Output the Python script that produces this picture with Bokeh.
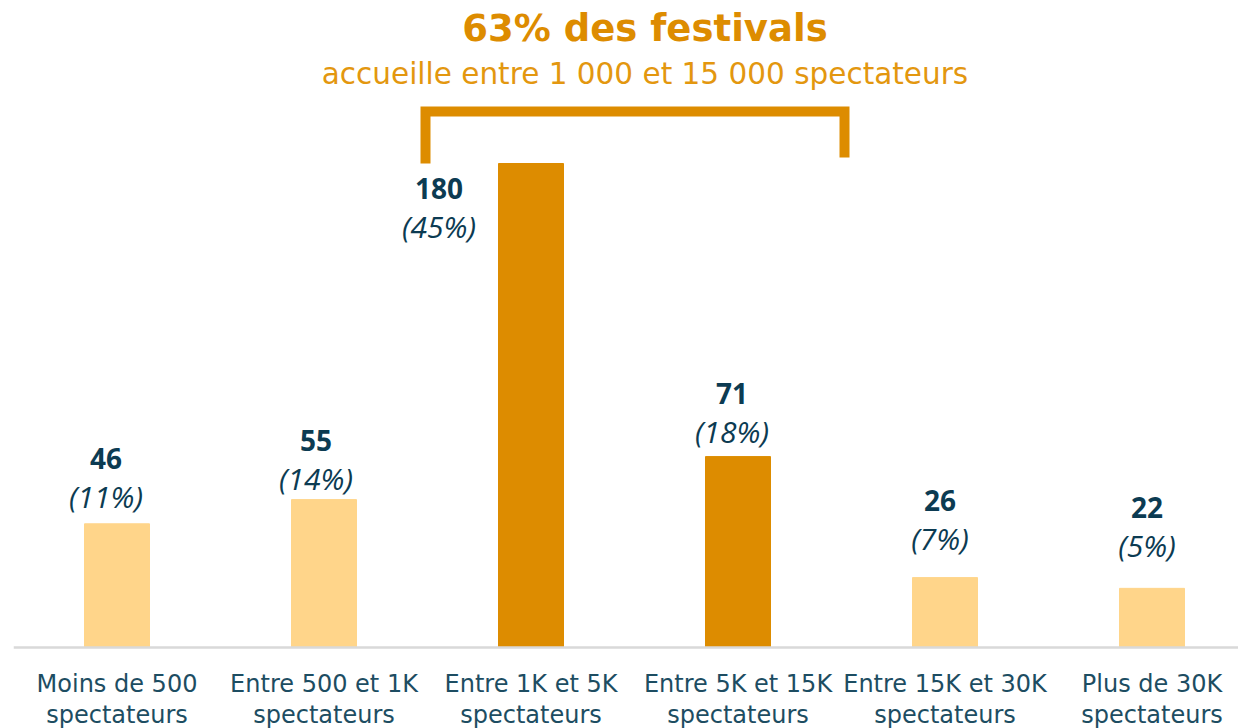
from bokeh.plotting import figure
from bokeh.models import Range1d, Span, ColumnDataSource
from bokeh.core.properties import value
from bokeh.embed import file_html
from bokeh.resources import INLINE

# ---- data ----
categories = ["Moins de 500\nspectateurs", "Entre 500 et 1K\nspectateurs",
              "Entre 1K et 5K\nspectateurs", "Entre 5K et 15K\nspectateurs",
              "Entre 15K et 30K\nspectateurs", "Plus de 30K\nspectateurs"]
counts = [46, 55, 180, 71, 26, 22]
percents = ["(11%)", "(14%)", "(45%)", "(18%)", "(7%)", "(5%)"]
highlight = [False, False, True, True, False, False]
title_main = "63% des festivals"
title_sub = "accueille entre 1 000 et 15 000 spectateurs"

# ---- layout constants ----
W, H = 1238, 728
LEFT = 13
PX_PER_CAT = 207.0
PX_PER_UNIT = 484.0 / 180.0
BASE_PX = 647.0            # baseline distance from figure top
x0 = -0.5
x1 = x0 + (W - LEFT) / PX_PER_CAT
y1 = BASE_PX / PX_PER_UNIT
y0 = y1 - H / PX_PER_UNIT

def dy(px):  # pixel distance -> data units
    return px / PX_PER_UNIT

def dx(px):
    return px / PX_PER_CAT

DARK = "#DD8C00"
LIGHT = "#FFD58A"
NAVY = "#0C3B52"
LABEL = "#1D4D62"
GEO = "DejaVu Sans"

p = figure(width=W, height=H, x_range=Range1d(x0, x1), y_range=Range1d(y0, y1),
           x_axis_type=None, y_axis_type=None, toolbar_location=None,
           output_backend="svg", min_border_left=LEFT, min_border_right=0,
           min_border_top=0, min_border_bottom=0)
p.outline_line_color = None
p.xgrid.visible = False
p.ygrid.visible = False
p.background_fill_color = "white"
p.border_fill_color = "white"

xs = list(range(len(categories)))
colors = [DARK if h else LIGHT for h in highlight]
src = ColumnDataSource(dict(x=xs, top=counts, color=colors))
p.vbar(x="x", top="top", width=dx(65), bottom=0, color="color", source=src)

p.add_layout(Span(location=0, dimension="width", line_color="#D9D9D9", line_width=2.5))

# value labels (pixel offsets relative to bar centre / top)
num_gap = [65, 59, 0, 63, 77, 81]
num_shift = [-11, -8, 0, -6, -5, -5]
num_x, num_y, pct_y = [], [], []
for i, c in enumerate(counts):
    if i == 2:
        num_x.append(i + dx(-92))
        num_y.append(c - dy(25))
    else:
        num_x.append(i + dx(num_shift[i]))
        num_y.append(c + dy(num_gap[i]))
    pct_y.append(num_y[-1] - dy(38))

p.text(x=num_x, y=num_y, text=[str(c) for c in counts], text_font=value("Open Sans"),
       text_font_style="bold", text_font_size="28px", text_color=NAVY,
       text_align="center", text_baseline="middle")
p.text(x=num_x, y=pct_y, text=percents, text_font=value("Open Sans"),
       text_font_style="italic", text_font_size="30px", text_color=NAVY,
       text_align="center", text_baseline="middle")

# category labels (two lines)
line1 = [c.split("\n")[0] for c in categories]
line2 = [c.split("\n")[1] for c in categories]
p.text(x=xs, y=[-dy(36)] * len(xs), text=line1, text_font=value(GEO),
       text_font_size="24px", text_color=LABEL, text_align="center", text_baseline="middle")
p.text(x=xs, y=[-dy(67)] * len(xs), text=line2, text_font=value(GEO),
       text_font_size="24px", text_color=LABEL, text_align="center", text_baseline="middle")

# bracket
bx_l = 2 + dx(425 - 530.5)
bx_r = 3 + dx(844 - 737.5)
by_top = counts[2] + dy(52)
p.line(x=[bx_l, bx_l, bx_r, bx_r], y=[counts[2], by_top, by_top, counts[2] + dy(6)],
       line_color=DARK, line_width=10, line_join="miter", line_cap="butt")

# title texts
tx = (bx_l + bx_r) / 2 + dx(10)
p.text(x=[tx], y=[counts[2] + dy(135)], text=[title_main], text_font=value(GEO),
       text_font_style="bold", text_font_size="37px", text_color=DARK,
       text_align="center", text_baseline="middle")
p.text(x=[tx], y=[counts[2] + dy(90)], text=[title_sub], text_font=value(GEO),
       text_font_size="29.5px", text_color="#E3970F",
       text_align="center", text_baseline="middle")

open("out.html", "w").write(file_html(p, INLINE))
